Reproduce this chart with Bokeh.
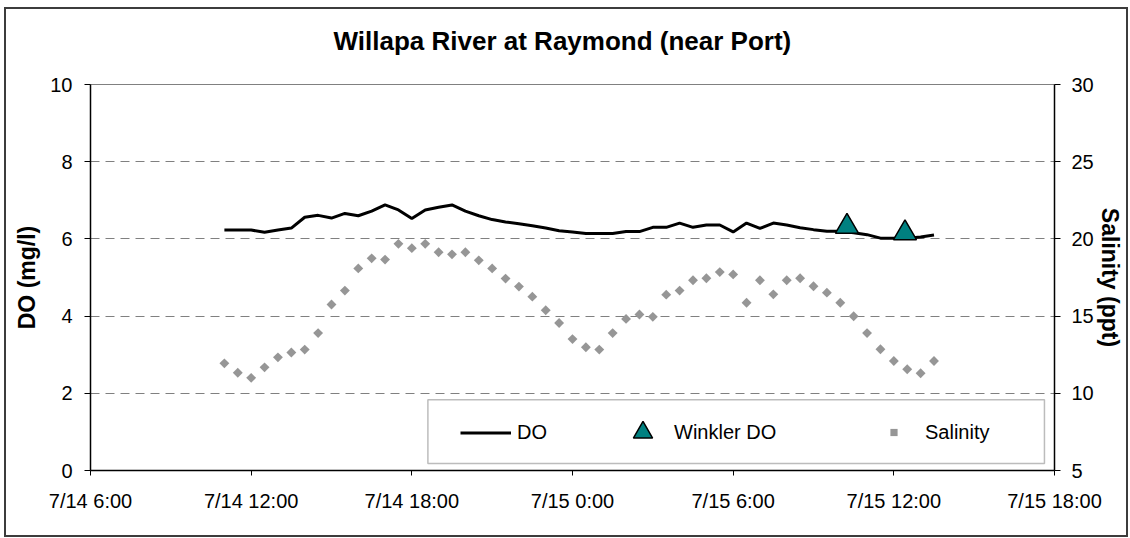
import math
import pandas as pd
from bokeh.plotting import figure
from bokeh.models import (Range1d, LinearAxis, FixedTicker, CustomJSTickFormatter,
                          Legend, LegendItem, BoxAnnotation, ColumnDataSource)
from bokeh.embed import file_html
from bokeh.resources import INLINE

# ---------------- data ----------------
title_text = "Willapa River at Raymond (near Port)"
times = [
    "7/14 11:00", "7/14 11:30", "7/14 12:00", "7/14 12:30", "7/14 13:00", "7/14 13:30",
    "7/14 14:00", "7/14 14:30", "7/14 15:00", "7/14 15:30", "7/14 16:00", "7/14 16:30",
    "7/14 17:00", "7/14 17:30", "7/14 18:00", "7/14 18:30", "7/14 19:00", "7/14 19:30",
    "7/14 20:00", "7/14 20:30", "7/14 21:00", "7/14 21:30", "7/14 22:00", "7/14 22:30",
    "7/14 23:00", "7/14 23:30",
    "7/15 0:00", "7/15 0:30", "7/15 1:00", "7/15 1:30", "7/15 2:00", "7/15 2:30",
    "7/15 3:00", "7/15 3:30", "7/15 4:00", "7/15 4:30", "7/15 5:00", "7/15 5:30",
    "7/15 6:00", "7/15 6:30", "7/15 7:00", "7/15 7:30", "7/15 8:00", "7/15 8:30",
    "7/15 9:00", "7/15 9:30", "7/15 10:00", "7/15 10:30", "7/15 11:00", "7/15 11:30",
    "7/15 12:00", "7/15 12:30", "7/15 13:00", "7/15 13:30",
]
do_mg_l = [
    6.23, 6.23, 6.23, 6.17, 6.23, 6.28, 6.56, 6.61, 6.54, 6.66,
    6.60, 6.72, 6.88, 6.75, 6.53, 6.75, 6.82, 6.88, 6.72, 6.60,
    6.50, 6.44, 6.39, 6.34, 6.28, 6.21,
    6.18, 6.14, 6.14, 6.14, 6.19, 6.19, 6.30, 6.30, 6.41, 6.30,
    6.36, 6.36, 6.18, 6.41, 6.27, 6.41, 6.36, 6.29, 6.24, 6.20,
    6.20, 6.16, 6.11, 6.02, 6.02, 6.02, 6.05, 6.10,
]
salinity_ppt = [
    11.94, 11.33, 11.00, 11.68, 12.33, 12.64, 12.83, 13.90, 15.75, 16.65,
    18.09, 18.74, 18.66, 19.68, 19.40, 19.68, 19.14, 19.00, 19.14, 18.61,
    18.09, 17.43, 16.91, 16.26, 15.38, 14.55,
    13.51, 12.98, 12.83, 13.90, 14.82, 15.10, 14.95, 16.39, 16.65, 17.32,
    17.45, 17.85, 17.70, 15.86, 17.32, 16.41, 17.32, 17.45, 16.93, 16.52,
    15.86, 14.99, 13.90, 12.85, 12.09, 11.56, 11.30, 12.09,
]
winkler_times = ["7/15 10:15", "7/15 12:25"]
winkler_do = [6.32, 6.15]
x_tick_times = ["7/14 6:00", "7/14 12:00", "7/14 18:00", "7/15 0:00",
                "7/15 6:00", "7/15 12:00", "7/15 18:00"]
do_ticks = [0, 2, 4, 6, 8, 10]
sal_ticks = [5, 10, 15, 20, 25, 30]

YEAR = "2008/"


def to_dt(lst):
    return pd.to_datetime([YEAR + s for s in lst], format="%Y/%m/%d %H:%M")


def to_ms(idx):
    return [float((t - pd.Timestamp("1970-01-01")) / pd.Timedelta(milliseconds=1)) for t in idx]


t = to_dt(times)
wt = to_dt(winkler_times)
xt = to_dt(x_tick_times)
xt_ms = to_ms(xt)

src = ColumnDataSource(dict(t=t, do=do_mg_l, sal=salinity_ppt))
wsrc = ColumnDataSource(dict(t=wt, do=winkler_do))

FONT = "Liberation Sans"

p = figure(width=1124, height=530, x_axis_type="datetime",
           x_range=Range1d(xt_ms[0], xt_ms[-1]), y_range=Range1d(0, 10),
           output_backend="svg", toolbar_location=None,
           min_border_left=84, min_border_right=76, min_border_top=75, min_border_bottom=69)
p.styles = {"margin-left": "4px", "margin-top": "7px",
            "border": "2px solid #3c3c3c"}
p.background_fill_color = "white"
p.border_fill_color = "white"
p.outline_line_color = "#808080"
p.outline_line_width = 1

p.extra_y_ranges = {"sal": Range1d(5, 30)}

# title
p.title.text = title_text
p.title.align = "left"
p.title.offset = 243
p.title.vertical_align = "bottom"
p.title.standoff = 10
p.title.text_font = FONT
p.title.text_font_size = "26px"
p.title.text_font_style = "bold"
p.title.text_color = "black"

# grids
p.xgrid.visible = False
p.ygrid.grid_line_color = "#808080"
p.ygrid.grid_line_dash = "9 6"
p.ygrid.grid_line_width = 1

# x axis (bottom)
xa = p.below[0]
xa.ticker = FixedTicker(ticks=xt_ms, minor_ticks=[])
xa.formatter = CustomJSTickFormatter(code="""
const d = new Date(tick);
const mm = String(d.getUTCMinutes()).padStart(2, "0");
return (d.getUTCMonth() + 1) + "/" + d.getUTCDate() + " " + d.getUTCHours() + ":" + mm;
""")
xa.major_tick_out = 5
xa.major_tick_in = 0
xa.minor_tick_out = 0
xa.major_label_standoff = 14

# left axis
ya = p.left[0]
ya.ticker = FixedTicker(ticks=do_ticks, minor_ticks=[])
ya.axis_label = "DO (mg/l)"
ya.major_tick_out = 6
ya.major_tick_in = 0
ya.minor_tick_out = 0
ya.major_label_standoff = 12
ya.axis_label_standoff = 7

# right axis
ra = LinearAxis(y_range_name="sal", ticker=FixedTicker(ticks=sal_ticks, minor_ticks=[]),
                axis_label="Salinity (ppt)")
ra.major_tick_out = 6
ra.major_tick_in = 0
ra.minor_tick_out = 0
ra.major_label_standoff = 11
ra.axis_label_standoff = 0
p.add_layout(ra, "right")

for ax in (xa, ya, ra):
    ax.axis_line_color = "black"
    ax.axis_line_width = 1.5
    ax.major_tick_line_color = "black"
    ax.major_tick_line_width = 1
    ax.major_label_text_font = FONT
    ax.major_label_text_font_size = "20px"
    ax.major_label_text_color = "black"
    ax.axis_label_text_font = FONT
    ax.axis_label_text_font_size = "23px"
    ax.axis_label_text_font_style = "bold"
    ax.axis_label_text_color = "black"

# invisible spacer between the frame and the title (one hidden tick, empty label)
spacer = LinearAxis(ticker=FixedTicker(ticks=[xt_ms[3]], minor_ticks=[]),
                    formatter=CustomJSTickFormatter(code="return '';"),
                    axis_line_color=None, major_tick_line_color=None,
                    minor_tick_line_color=None, major_tick_out=24, major_tick_in=0,
                    minor_tick_out=0, major_label_standoff=0,
                    major_label_text_font_size="1px")
p.add_layout(spacer, "above")

# glyphs
sal_r = p.scatter("t", "sal", source=src, y_range_name="sal", marker="square",
                  angle=math.pi / 4, size=7, fill_color="#969696", line_color=None)
do_r = p.line("t", "do", source=src, line_color="black", line_width=3)
wk_r = p.scatter("t", "do", source=wsrc, marker="triangle", size=23,
                 fill_color="#008080", line_color="black", line_width=1.5)

# legend frame (layout only)
h_ms = 3600 * 1000.0
box = BoxAnnotation(left=xt_ms[0] + 12.6 * h_ms, right=xt_ms[0] + 35.625 * h_ms,
                    bottom=0.183, top=1.832, fill_color="white", fill_alpha=1.0,
                    line_color="#202020", line_width=1.5)
p.add_layout(box)


def make_legend(label, rend, x, gh):
    h = max(gh, 23)
    leg = Legend(items=[LegendItem(label=label, renderers=[rend])],
                 location=(x, 38 - h / 2), orientation="horizontal",
                 glyph_width=51, glyph_height=gh, label_standoff=6,
                 padding=0, margin=0, border_line_color=None,
                 background_fill_alpha=0, label_text_font=FONT,
                 label_text_font_size="20px", label_text_color="black",
                 label_height=gh)
    p.add_layout(leg)


make_legend("DO", do_r, 370, 23)
make_legend("Winkler DO", wk_r, 527, 48)
make_legend("Salinity", sal_r, 778, 18)

open("out.html", "w").write(file_html(p, INLINE))
